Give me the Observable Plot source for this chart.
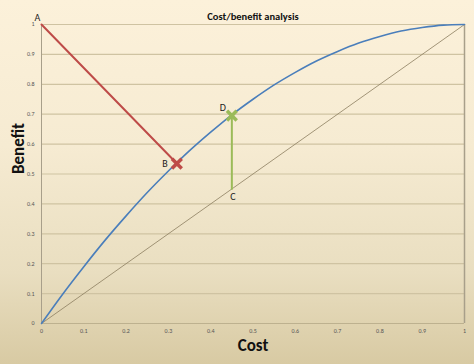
<!DOCTYPE html>
<html><head><meta charset="utf-8">
<script src="https://cdn.jsdelivr.net/npm/d3@7"></script>
<script src="https://cdn.jsdelivr.net/npm/@observablehq/plot@0.6"></script>
<style>
html,body{margin:0;padding:0;}
#chart{width:474px;height:364px;background:linear-gradient(to bottom,#fcf1da 0%,#f6ebd2 40%,#e9dec0 75%,#d8caa3 100%);font-family:Calibri,Carlito,"Open Sans",sans-serif;}
#chart svg{background:transparent;}
</style></head><body><div id="chart"></div>
<script>
// Benefit curve
const curveX = [0,0.05,0.1,0.15,0.2,0.25,0.3,0.35,0.4,0.45,0.5,0.55,0.6,0.65,0.7,0.75,0.8,0.85,0.9,0.95,1];
const curveY = [0,0.098,0.19,0.278,0.36,0.438,0.51,0.578,0.64,0.698,0.75,0.798,0.84,0.878,0.91,0.938,0.96,0.978,0.99,0.998,1];
const diagX = [0,1];
const diagY = [0,1];
const redX = [0,0.32];
const redY = [1,0.535];
const greenX = [0.45,0.45];
const greenY = [0.45,0.695];
const labelNames = ["A","B","C","D"];
const labelX = [0,0.32,0.45,0.45];
const labelY = [1,0.535,0.45,0.695];
const ticks = [0,0.1,0.2,0.3,0.4,0.5,0.6,0.7,0.8,0.9,1];
const tickLabels = ["0","0.1","0.2","0.3","0.4","0.5","0.6","0.7","0.8","0.9","1"];

const curve = curveX.map((x,i)=>({x,y:curveY[i]}));
const diag = diagX.map((x,i)=>({x,y:diagY[i]}));
const red = redX.map((x,i)=>({x,y:redY[i]}));
const green = greenX.map((x,i)=>({x,y:greenY[i]}));
const labels = labelNames.map((t,i)=>({t,x:labelX[i],y:labelY[i]}));
const fmt = d => tickLabels[ticks.indexOf(d)] ?? d;

const plot = Plot.plot({
  width:474, height:364,
  marginLeft:41, marginRight:10, marginTop:24, marginBottom:41,
  x:{domain:[0,1]}, y:{domain:[0,1]},
  style:{background:"transparent", fontFamily:"Calibri,Carlito,'Open Sans',sans-serif"},
  marks:[
    Plot.gridY(ticks,{stroke:"#cfc3a2",strokeOpacity:1,strokeWidth:1.2}),
    Plot.ruleX([0],{stroke:"#a89f8a",strokeWidth:1}),
    Plot.ruleX([1],{stroke:"#a89f8a",strokeWidth:1.5}),
    Plot.ruleY([0],{stroke:"#bdb18f",strokeWidth:1}),
    Plot.axisY(ticks,{tickSize:0,tickPadding:7,fontSize:6,fill:"#555",tickFormat:fmt,label:null}),
    Plot.axisX(ticks,{tickSize:0,tickPadding:5,fontSize:6,fill:"#555",tickFormat:fmt,label:null}),
    Plot.line(diag,{x:"x",y:"y",stroke:"#8b7d60",strokeWidth:0.8}),
    Plot.line(curve,{x:"x",y:"y",stroke:"#4a7ebb",strokeWidth:1.6,curve:"natural"}),
    Plot.line(red,{x:"x",y:"y",stroke:"#be4b48",strokeWidth:2}),
    Plot.line(green,{x:"x",y:"y",stroke:"#9bbb59",strokeWidth:2}),
    Plot.dot([red[1]],{x:"x",y:"y",symbol:"times",r:4.5,stroke:"#be4b48",strokeWidth:3.5}),
    Plot.dot([green[1]],{x:"x",y:"y",symbol:"times",r:4.5,stroke:"#9bbb59",strokeWidth:3.5}),
    Plot.text([labels[0]],{x:"x",y:"y",text:"t",dx:-4,dy:-7,fontSize:10,fill:"#222"}),
    Plot.text([labels[1]],{x:"x",y:"y",text:"t",dx:-12,dy:0,fontSize:10,fill:"#222"}),
    Plot.text([labels[2]],{x:"x",y:"y",text:"t",dx:1,dy:8,fontSize:10,fill:"#222"}),
    Plot.text([labels[3]],{x:"x",y:"y",text:"t",dx:-9,dy:-8,fontSize:10,fill:"#222"}),
    Plot.text(["Cost/benefit analysis"],{frameAnchor:"top",dy:-12,fontSize:10.5,fontWeight:"bold",fill:"#111"}),
    Plot.text(["Cost"],{frameAnchor:"bottom",dy:27,dx:0,fontSize:17,fontWeight:"bold",fill:"#111"}),
    Plot.text(["Benefit"],{frameAnchor:"left",dx:-23,rotate:-90,fontSize:17,fontWeight:"bold",fill:"#111"})
  ]
});
document.getElementById("chart").appendChild(plot);
</script></body></html>
